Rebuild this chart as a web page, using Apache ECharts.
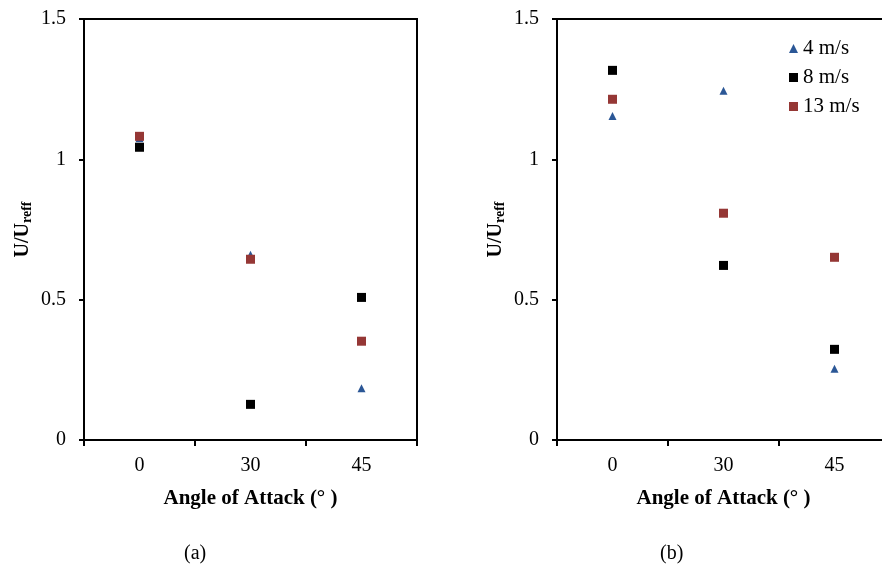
<!DOCTYPE html>
<html>
<head>
<meta charset="utf-8">
<script src="https://cdn.jsdelivr.net/npm/echarts@6/dist/echarts.min.js"></script>
<style>
  html, body { margin: 0; padding: 0; background: #fff; overflow: hidden; }
  #chart { width: 882px; height: 570px; }
</style>
</head>
<body>
<div id="chart"></div>
<script>
// Angle of attack categories (deg)
const angles = ['0', '30', '45'];
const speedNames = ['4 m/s', '8 m/s', '13 m/s'];

// panel (a)
const a4 = [1.075, 0.66, 0.184];
const a8 = [1.043, 0.127, 0.508];
const a13 = [1.082, 0.644, 0.352];

// panel (b)
const b4 = [1.154, 1.244, 0.254];
const b8 = [1.317, 0.622, 0.323];
const b13 = [1.214, 0.808, 0.651];

const yTicks = { min: 0, max: 1.5, interval: 0.5 };

const FONT = "'Liberation Serif', 'Times New Roman', serif";
const colors = ['#2B5796', '#000000', '#953735'];
const symbols = ['triangle', 'rect', 'rect'];
const sizes = [8, 9, 9];

const chart = echarts.init(document.getElementById('chart'));

function xAxisFor(gridIndex) {
    return {
        type: 'category',
        gridIndex: gridIndex,
        data: angles,
        boundaryGap: true,
        name: 'Angle of Attack (° )',
        nameLocation: 'middle',
        nameGap: 48,
        nameTextStyle: { fontFamily: FONT, fontWeight: 'bold', fontSize: 21, color: '#000' },
        axisLine: { lineStyle: { color: '#000', width: 2 } },
        axisTick: { show: true, length: 6, inside: false, lineStyle: { color: '#000', width: 2 } },
        axisLabel: { fontFamily: FONT, fontSize: 20, color: '#000', margin: 16 },
        splitLine: { show: false }
    };
}

function yAxisFor(gridIndex) {
    return {
        type: 'value',
        gridIndex: gridIndex,
        min: yTicks.min,
        max: yTicks.max,
        interval: yTicks.interval,
        name: 'U/U{sub|reff}',
        nameLocation: 'middle',
        nameGap: 50,
        nameTextStyle: {
            fontFamily: FONT, fontWeight: 'bold', fontSize: 20, color: '#000',
            rich: {
                sub: { fontFamily: FONT, fontWeight: 'bold', fontSize: 14, color: '#000', verticalAlign: 'bottom', padding: [8, 0, 0, 0] }
            }
        },
        axisLine: { show: true, lineStyle: { color: '#000', width: 2 } },
        axisTick: { show: true, length: 5, lineStyle: { color: '#000', width: 2 } },
        axisLabel: { fontFamily: FONT, fontSize: 20, color: '#000', margin: 18 },
        splitLine: { show: false }
    };
}

function scatter(name, data, idx, axisIndex) {
    return {
        name: name,
        type: 'scatter',
        xAxisIndex: axisIndex,
        yAxisIndex: axisIndex,
        data: data,
        symbol: symbols[idx],
        symbolSize: sizes[idx],
        itemStyle: { color: colors[idx], opacity: 1 },
        z: 2 + idx
    };
}

const option = {
    backgroundColor: '#fff',
    animation: false,
    title: [
        { text: '(a)', left: 179, top: 539, textStyle: { fontFamily: FONT, fontWeight: 'normal', fontSize: 20, color: '#000' } },
        { text: '(b)', left: 655, top: 539, textStyle: { fontFamily: FONT, fontWeight: 'normal', fontSize: 20, color: '#000' } }
    ],
    legend: {
        show: true,
        orient: 'vertical',
        left: 784,
        top: 33,
        itemWidth: 9,
        itemHeight: 9,
        itemGap: 8,
        data: speedNames.map((n, i) => ({ name: n, icon: i === 0 ? 'triangle' : 'rect' })),
        textStyle: { fontFamily: FONT, fontSize: 21, color: '#000' }
    },
    grid: [
        { left: 84, width: 333, top: 19, bottom: 130, outerBoundsMode: 'none', show: true, borderColor: '#000', borderWidth: 2, backgroundColor: 'transparent' },
        { left: 557, width: 333, top: 19, bottom: 130, outerBoundsMode: 'none', show: true, borderColor: '#000', borderWidth: 2, backgroundColor: 'transparent' }
    ],
    xAxis: [xAxisFor(0), xAxisFor(1)],
    yAxis: [yAxisFor(0), yAxisFor(1)],
    series: [
        scatter(speedNames[0], a4, 0, 0),
        scatter(speedNames[1], a8, 1, 0),
        scatter(speedNames[2], a13, 2, 0),
        scatter(speedNames[0], b4, 0, 1),
        scatter(speedNames[1], b8, 1, 1),
        scatter(speedNames[2], b13, 2, 1)
    ]
};

chart.setOption(option);
</script>
</body>
</html>
